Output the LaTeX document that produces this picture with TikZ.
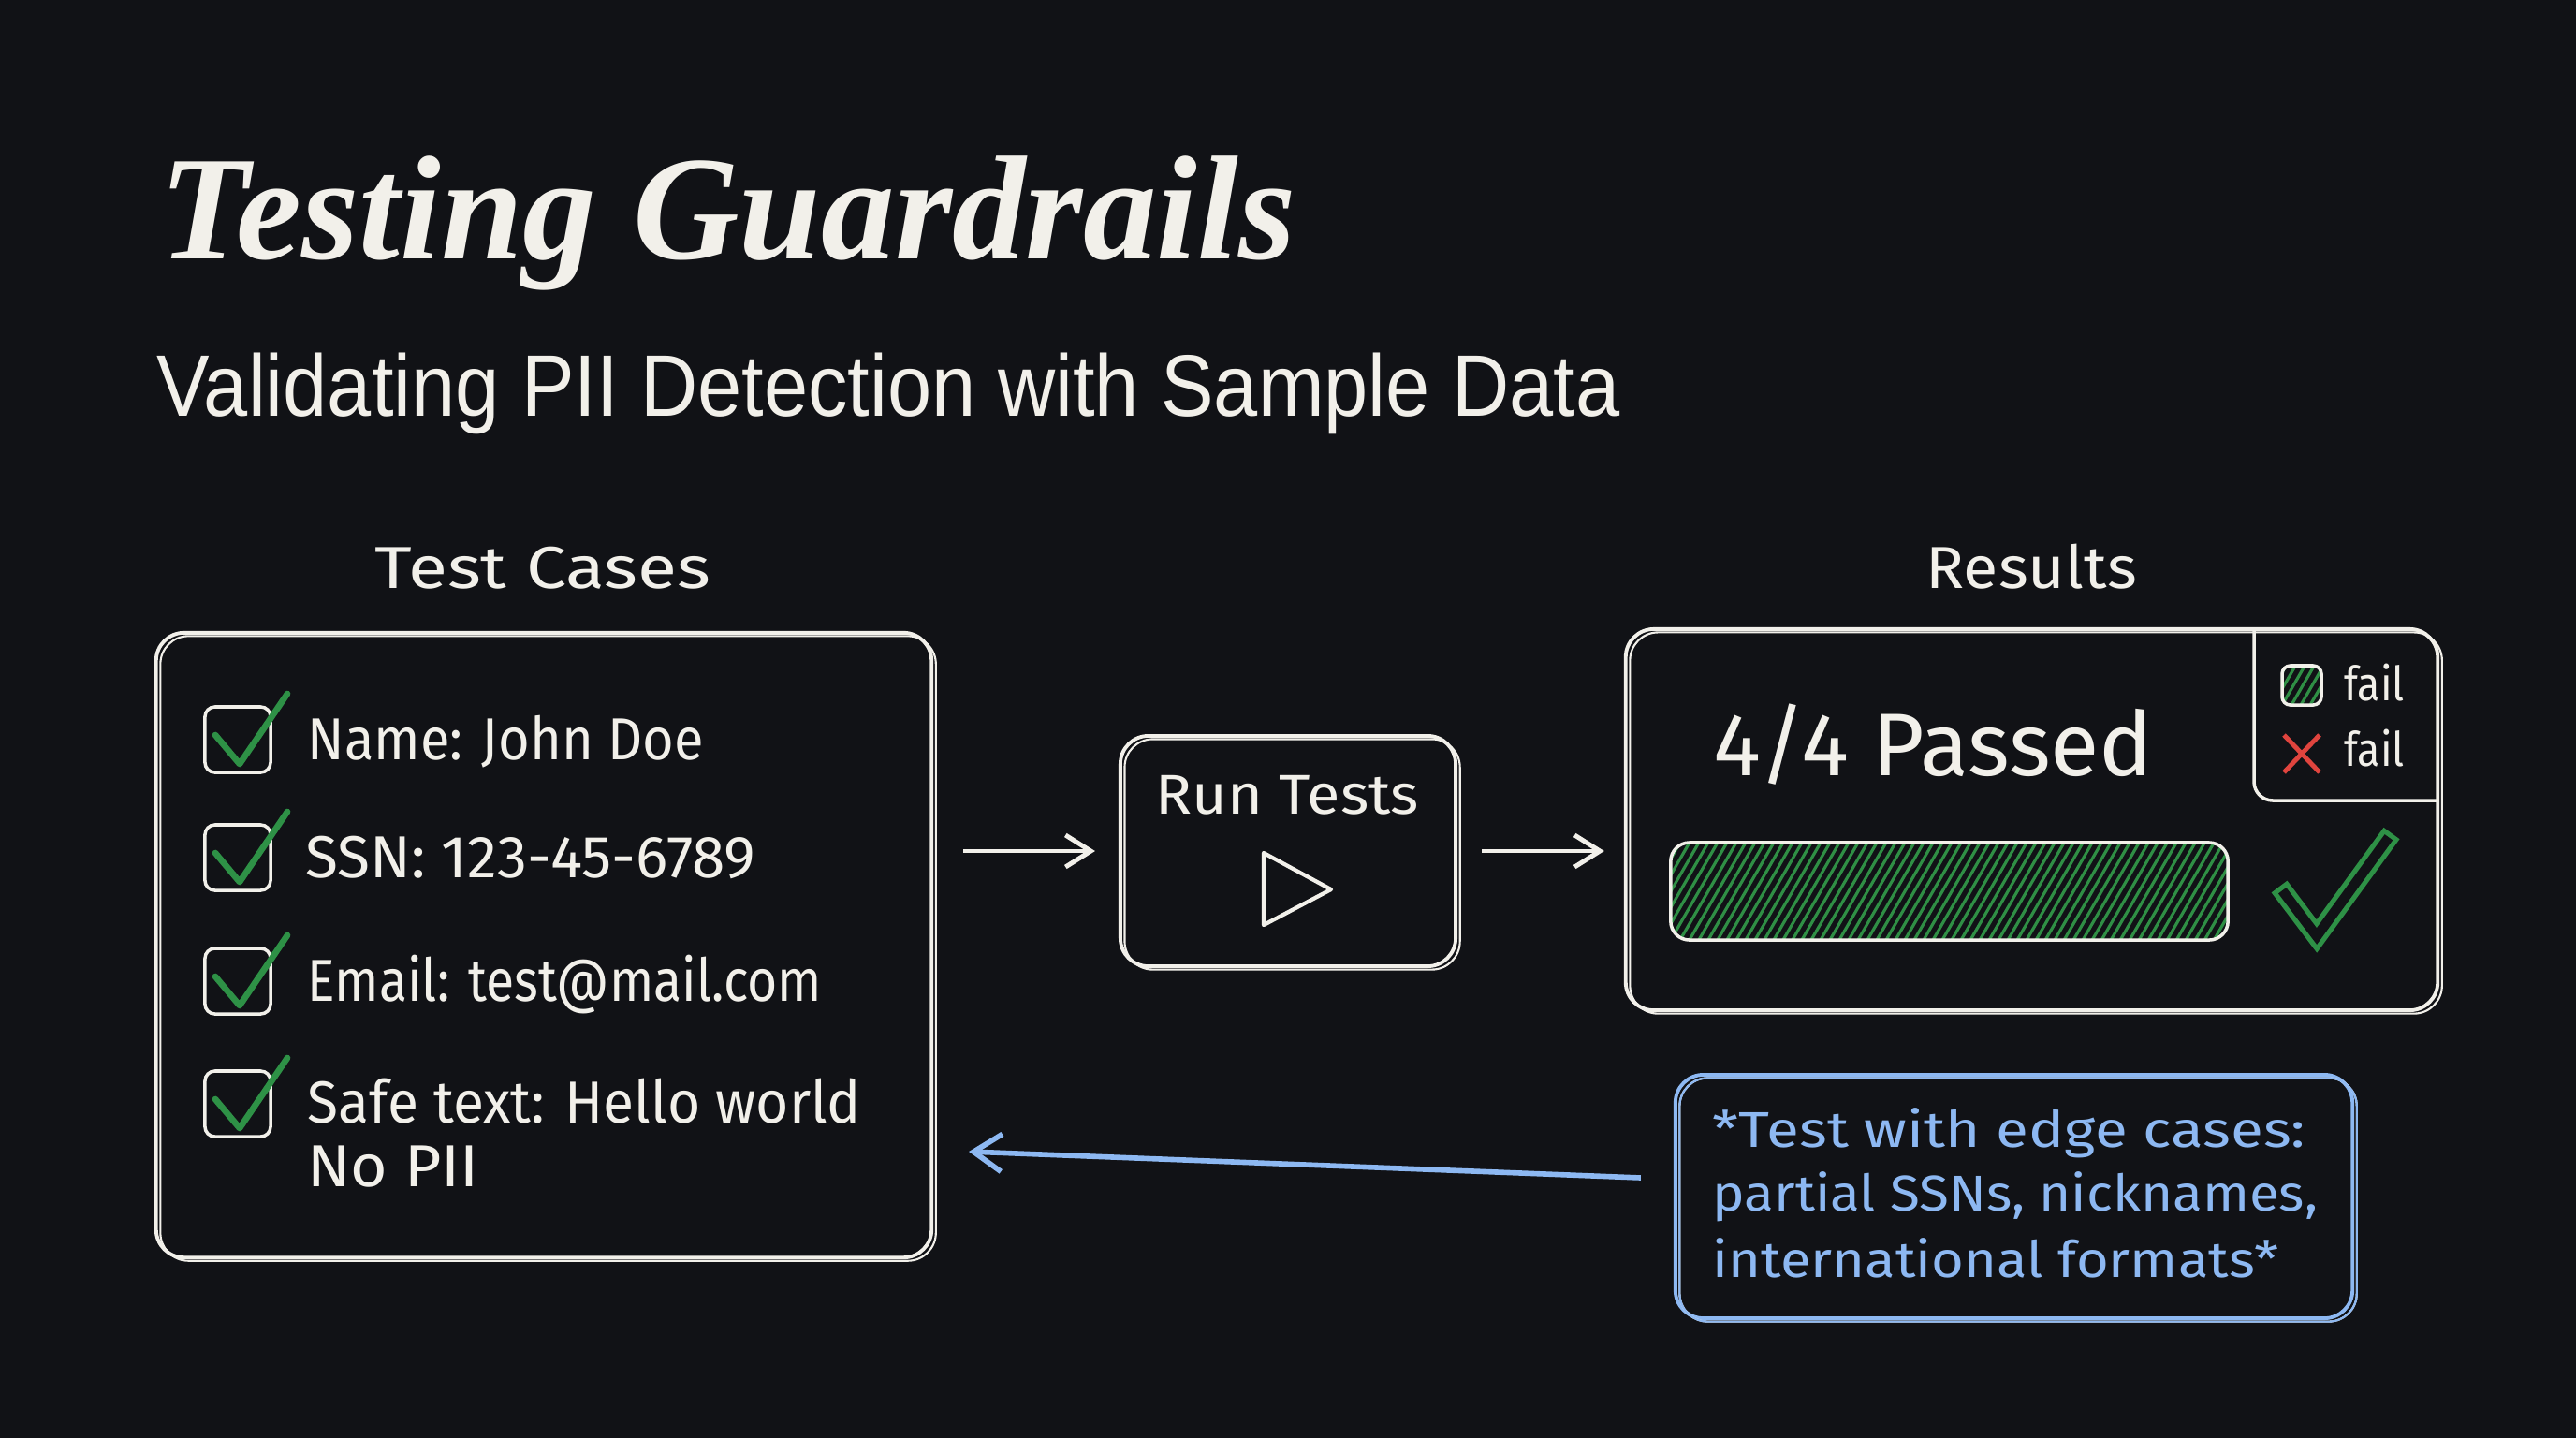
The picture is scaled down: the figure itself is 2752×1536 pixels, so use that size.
\documentclass[tikz,border=0pt]{standalone}
\usepackage{fontspec}
\usepackage{graphicx}
\usetikzlibrary{arrows.meta,calc}
\setmainfont{Liberation Serif}
\newfontfamily\titlefont{Liberation Serif}
\newfontfamily\subfont{Liberation Sans}
\newfontfamily\hand{Fira Sans}
\newcommand{\fitw}[2]{\resizebox{#1}{\height}{#2}}
\definecolor{bg}{HTML}{111216}
\definecolor{ink}{HTML}{F2F0EA}
\definecolor{okgreen}{HTML}{2E9146}
\definecolor{hatchgreen}{HTML}{2F8F45}
\definecolor{noteblue}{HTML}{8DB8F2}
\definecolor{failred}{HTML}{E0443E}
\begin{document}
\begin{tikzpicture}[x=0.01cm,y=-0.01cm,
  sketch/.style={draw=ink, line width=1.1pt, rounded corners=0.3cm, inner sep=0pt,
    postaction={draw=ink, line width=0.6pt, transform canvas={shift={(1.3pt,-1pt)}}}},
  bluesketch/.style={sketch, draw=noteblue, postaction={draw=noteblue, line width=0.6pt, transform canvas={shift={(1.3pt,-1pt)}}}},
  txt/.style={inner sep=0pt, anchor=base west, text=ink},
  hw/.style={txt, font=\hand\fontsize{#1}{#1}\selectfont},
  cbox/.style={draw=ink, line width=1pt, rounded corners=3pt, minimum size=0.7cm, inner sep=0pt},
  chk/.style={draw=okgreen, line width=1.9pt, line cap=round, line join=round},
  arr/.style={draw=ink, line width=1.4pt, -{Straight Barb[length=0.27cm,width=0.34cm]}},
  bluearr/.style={draw=noteblue, line width=1.6pt, -{Straight Barb[length=0.3cm,width=0.4cm]}},
  hatch/.style={path picture={\foreach \k in {-0.8,-0.7,...,6.0}{\draw[hatchgreen,line width=0.9pt] ([xshift=\k cm]path picture bounding box.south west) -- ++(60:1.5cm);}}}
]
\fill[bg] (0,0) rectangle (2752,1536);
\useasboundingbox (0,0) rectangle (2752,1536);

% titles
\node[txt, font=\titlefont\bfseries\itshape\fontsize{45}{50}\selectfont] (title) at (170,276) {\fitw{12.13cm}{Testing Guardrails}};
\node[txt, font=\subfont\fontsize{26.5}{30}\selectfont] (sub) at (167,444) {\fitw{15.62cm}{Validating PII Detection with Sample Data}};

% test cases
\node[hw=18] (tcl) at (400,628) {\fitw{3.58cm}{Test Cases}};
\node[sketch, minimum width=8.28cm, minimum height=6.67cm] (tc) at (581,1009.5) {};
\foreach \n/\y in {1/790,2/916,3/1048,4/1179}{
  \node[cbox] (cb\n) at (254,\y) {};
  \draw[chk] ($(cb\n)+(-24,-5)$) -- ++(26,31) -- ++(51,-75);
}
\node[hw=18] (t1) at (328,811) {\fitw{4.23cm}{Name: John Doe}};
\node[hw=18] (t2) at (326,937) {\fitw{4.80cm}{SSN: 123-45-6789}};
\node[hw=18] (t3) at (328,1069) {\fitw{5.49cm}{Email: test@mail.com}};
\node[hw=18] (t4) at (328,1199) {\fitw{5.91cm}{Safe text: Hello world}};
\node[hw=18] (t5) at (328,1267) {\fitw{1.83cm}{No PII}};

% run tests
\node[sketch, minimum width=3.58cm, minimum height=2.46cm] (run) at (1376,909) {};
\node[hw=17] (runl) at (1234,869) {\fitw{2.81cm}{Run Tests}};
\draw[ink, line width=1.2pt, line join=round] (1350,911) -- (1422,950) -- (1350,988) -- cycle;

% results
\node[hw=18] (resl) at (2057,628) {\fitw{2.25cm}{Results}};
\node[sketch, minimum width=8.67cm, minimum height=4.07cm] (res) at (2170.5,875.5) {};
\draw[ink, line width=1pt, rounded corners=0.2cm] (2408,672) -- (2408,855) -- (2604,855);
\node[hw=27] (pass) at (1830,828) {\fitw{4.69cm}{4/4 Passed}};
\node[draw=ink, line width=1pt, rounded corners=0.2cm, fill=bg, hatch, minimum width=5.95cm, minimum height=1.04cm, inner sep=0pt] (bar) at (2082.5,952) {};
\node[draw=ink, line width=1pt, rounded corners=2.5pt, fill=bg, hatch, minimum size=0.42cm, inner sep=0pt] (lg1) at (2459,732) {};
\node[hw=14.4] (f1) at (2504,748) {\fitw{0.64cm}{fail}};
\draw[failred, line width=1.4pt] (2440,785) -- (2478,825) (2478,785) -- (2440,825);
\node[hw=14.4] (f2) at (2504,818) {\fitw{0.64cm}{fail}};
\draw[okgreen, line width=6pt, line join=miter] (2435,947) -- (2475,1000) -- (2555,890);
\draw[bg, line width=3pt, line join=miter, shorten <=1.5pt, shorten >=1.5pt] (2435,947) -- (2475,1000) -- (2555,890);

% note
\node[bluesketch, minimum width=7.23cm, minimum height=2.6cm] (note) at (2151.5,1278) {};
\node[hw=15.3, text=noteblue] (n1) at (1829,1225) {\fitw{6.33cm}{*Test with edge cases:}};
\node[hw=15.3, text=noteblue] (n2) at (1829,1293) {\fitw{6.46cm}{partial SSNs, nicknames,}};
\node[hw=15.3, text=noteblue] (n3) at (1829,1364) {\fitw{6.05cm}{international formats*}};

% connectors
\draw[arr, shorten <=0.32cm, shorten >=0.25cm] (tc.east |- run.west) -- (run.west);
\draw[arr, shorten <=0.26cm, shorten >=0.21cm] (run.east) -- (run.east -| res.west);
\coordinate (bt) at (1035,1230);
\draw[bluearr] ([xshift=-0.35cm, yshift=0.2cm]note.west) -- (bt);
\end{tikzpicture}
\end{document}
